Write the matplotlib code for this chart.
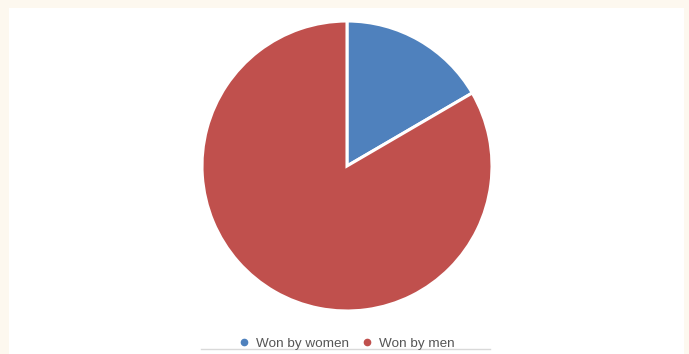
import matplotlib
matplotlib.use("Agg")
import matplotlib.pyplot as plt
from matplotlib.patches import Rectangle
from matplotlib.lines import Line2D

labels = ["Won by women", "Won by men"]
shares = [16.6, 83.4]
colors = ["#4F81BD", "#C0504D"]

W, H = 689, 354
fig = plt.figure(figsize=(W / 100, H / 100), dpi=100)
fig.patch.set_facecolor("#FDF8EF")

# white panel inside the cream frame
fig.add_artist(Rectangle((9 / W, 0), (684 - 9) / W, (H - 8) / H,
                         transform=fig.transFigure, facecolor="white",
                         edgecolor="none", zorder=0))

cx, cy, r = 347, 166, 145
ax = fig.add_axes([(cx - r) / W, (H - cy - r) / H, 2 * r / W, 2 * r / H])
wedges, _ = ax.pie(shares, colors=colors, startangle=90, counterclock=False,
                   wedgeprops=dict(edgecolor="white", linewidth=2.2))
ax.set_xlim(-1, 1)
ax.set_ylim(-1, 1)
ax.set_aspect("equal")
ax.axis("off")

handles = [Line2D([], [], marker="o", linestyle="none", markersize=4.5,
                  markerfacecolor=c, markeredgecolor=c) for c in colors]
leg = fig.legend(handles, labels, loc="center", bbox_to_anchor=(346 / W, 1 - 343.5 / H),
                 ncol=2, frameon=False, handletextpad=0.35, columnspacing=0.9,
                 handlelength=1.0, prop={"family": "Liberation Sans", "size": 9.7})
for t in leg.get_texts():
    t.set_color("#555555")

# thin rule under the legend
fig.add_artist(Line2D([201 / W, 490 / W], [1 - 349 / H] * 2, transform=fig.transFigure,
                      color="#D9D9D9", linewidth=1))

fig.savefig("out.png", dpi=100, facecolor=fig.get_facecolor())
